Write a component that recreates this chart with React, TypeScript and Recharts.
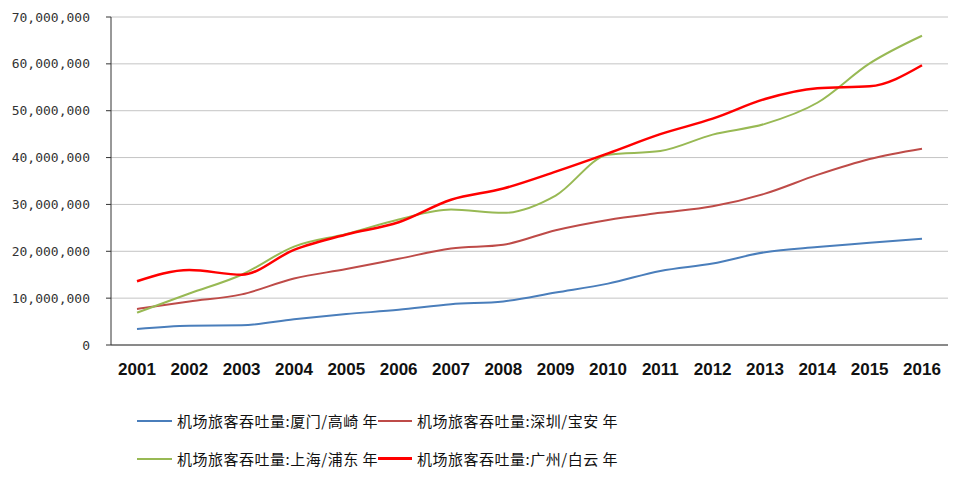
import { LineChart, Line, XAxis, YAxis, CartesianGrid } from "recharts";

const years = [
  "2001", "2002", "2003", "2004", "2005", "2006", "2007", "2008",
  "2009", "2010", "2011", "2012", "2013", "2014", "2015", "2016",
];

// 机场旅客吞吐量 (人次)
const xiamen = [
  3400000, 4100000, 4200000, 5500000, 6600000, 7500000, 8700000, 9300000,
  11200000, 13100000, 15800000, 17400000, 19800000, 20900000, 21800000, 22700000,
];
const shenzhen = [
  7700000, 9300000, 10800000, 14200000, 16200000, 18400000, 20600000, 21400000,
  24500000, 26700000, 28200000, 29600000, 32300000, 36300000, 39700000, 41900000,
];
const shanghai = [
  6900000, 11000000, 15000000, 21000000, 23700000, 26800000, 28900000, 28200000,
  31900000, 40600000, 41400000, 44900000, 47200000, 51700000, 60100000, 66000000,
];
const guangzhou = [
  13600000, 16000000, 15000000, 20300000, 23600000, 26200000, 31000000, 33400000,
  37000000, 40900000, 45000000, 48300000, 52500000, 54800000, 55200000, 59700000,
];

const yTicks = [0, 10000000, 20000000, 30000000, 40000000, 50000000, 60000000, 70000000];

const series = [
  { key: "xiamen", name: "机场旅客吞吐量:厦门/高崎 年", color: "#4a7ebb", width: 2 },
  { key: "shenzhen", name: "机场旅客吞吐量:深圳/宝安 年", color: "#be4b48", width: 2 },
  { key: "shanghai", name: "机场旅客吞吐量:上海/浦东 年", color: "#98b954", width: 2 },
  { key: "guangzhou", name: "机场旅客吞吐量:广州/白云 年", color: "#ff0000", width: 2.5 },
];

const data = years.map((year, i) => ({
  year,
  xiamen: xiamen[i],
  shenzhen: shenzhen[i],
  shanghai: shanghai[i],
  guangzhou: guangzhou[i],
}));

const cjk = '"Noto Sans CJK SC", sans-serif';

function ChartLegend() {
  return (
    <div
      style={{
        position: "absolute",
        left: 137,
        top: 409,
        display: "grid",
        gridTemplateColumns: "241px 240px",
        rowGap: 15,
        fontFamily: cjk,
        fontSize: 15,
        letterSpacing: 0.5,
        color: "#111",
      }}
    >
      {series.map((s) => (
        <div key={s.key} style={{ display: "flex", alignItems: "center", height: 23 }}>
          <span
            style={{
              display: "inline-block",
              width: 36,
              height: s.width,
              background: s.color,
              marginRight: 5,
            }}
          />
          <span style={{ whiteSpace: "pre" }}>{s.name}</span>
        </div>
      ))}
    </div>
  );
}

export default function App() {
  return (
    <div style={{ position: "absolute", left: 0, top: 0, width: 956, height: 486, background: "#fff" }}>
      <LineChart
        width={956}
        height={486}
        data={data}
        margin={{ top: 17, right: 8, left: 0, bottom: 101 }}
      >
        <CartesianGrid vertical={false} stroke="#c4c4c4" />
        <XAxis
          dataKey="year"
          padding={{ left: 26, right: 26 }}
          height={40}
          tickLine={false}
          tickSize={10}
          tickMargin={8}
          axisLine={{ stroke: "#333" }}
          tick={{ fill: "#111", fontSize: 17, fontWeight: 700, fontFamily: '"Liberation Sans", Arial, sans-serif' }}
        />
        <YAxis
          width={111}
          domain={[0, 70000000]}
          ticks={yTicks}
          tickSize={5}
          tickMargin={16}
          tickLine={{ stroke: "#333" }}
          axisLine={{ stroke: "#333" }}
          tickFormatter={(v: number) => v.toLocaleString("en-US")}
          tick={{ fill: "#333", fontSize: 13, fontFamily: '"DejaVu Sans Mono", monospace' }}
        />
        {series.map((s) => (
          <Line
            key={s.key}
            type="monotone"
            dataKey={s.key}
            name={s.name}
            stroke={s.color}
            strokeWidth={s.width}
            dot={false}
            activeDot={false}
            isAnimationActive={false}
          />
        ))}
      </LineChart>
      <ChartLegend />
    </div>
  );
}
